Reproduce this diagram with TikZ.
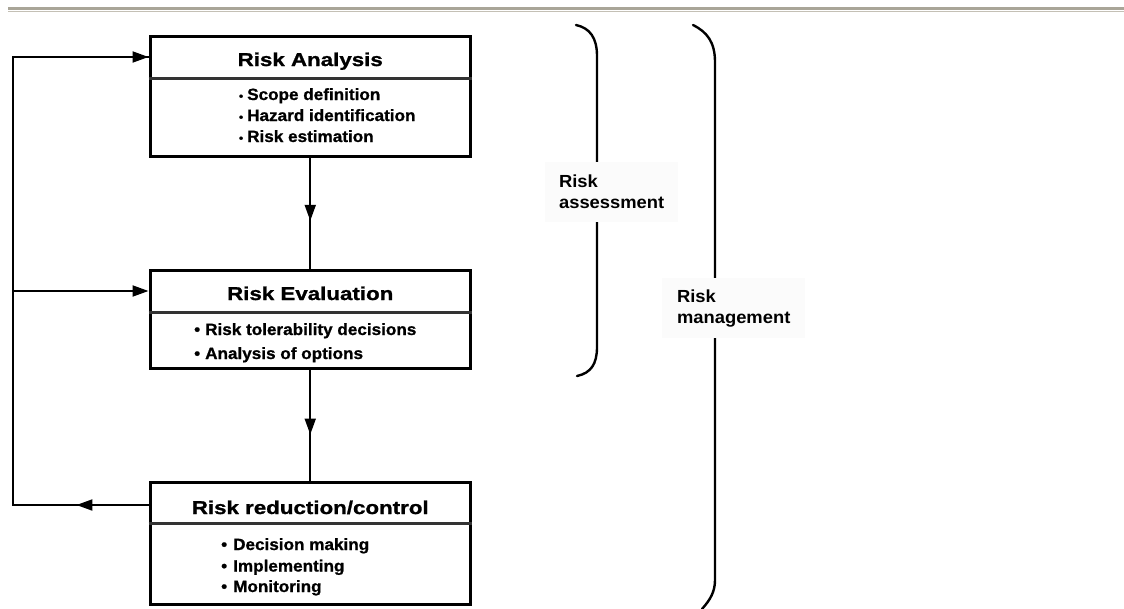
\documentclass[tikz,border=0pt]{standalone}
\usepackage{fontspec}
\setmainfont{Liberation Sans}
\newfontfamily\wfont[FakeStretch=1.2, BoldFeatures={FakeBold=1.2}]{Liberation Sans}
\newfontfamily\nfont[FakeStretch=1.05, BoldFeatures={FakeBold=1}]{Liberation Sans}
\newfontfamily\lfont[FakeStretch=1.05]{Liberation Sans}
\usetikzlibrary{arrows.meta,decorations.markings}
\definecolor{rulegray}{HTML}{A9A598}
\definecolor{rulelight}{HTML}{C4C0B5}
\definecolor{labelbg}{HTML}{FBFBFB}
\tikzset{
  box/.style={draw, line width=3pt, inner sep=0pt, minimum width=320.5pt},
  ttl/.style={font=\wfont\bfseries\fontsize{18.6}{20}\selectfont, inner sep=0pt, text height=18pt, text depth=0pt, anchor=base},
  bul/.style={font=\nfont\bfseries\fontsize{16.3}{18}\selectfont, inner sep=0pt, anchor=base west},
  conn/.style={line width=2pt, black},
  tipA/.style={-{Triangle[length=16pt,width=11pt]}},
  midarrow/.style={postaction={decorate}, decoration={markings, mark=at position #1 with {\arrow{Triangle[length=16pt,width=11pt]}}}},
  lab/.style={fill=labelbg, anchor=north west, align=left, inner sep=0pt, font=\lfont\bfseries\fontsize{17.5}{21}\selectfont},
  bracket/.style={line width=2.4pt, line cap=round},
  divider/.style={line width=2.2pt, black!80}
}
\begin{document}
\begin{tikzpicture}[x=1pt,y=-1pt]
\useasboundingbox (0,0) rectangle (1124,608);
% top rule
\fill[rulegray] (8,6.5) rectangle (1124,10);
\fill[rulelight] (8,10.8) rectangle (1124,11.8);

% boxes
\node[box, minimum height=120pt] (b1) at (310.25,96) {};
\node[box, minimum height=98.5pt] (b2) at (310.25,319.25) {};
\node[box, minimum height=121.3pt] (b3) at (310.25,543.35) {};

% titles
\node[ttl] (t1) at (310.25,66) {Risk Analysis};
\node[ttl] (t2) at (310.25,300) {Risk Evaluation};
\node[ttl] (t3) at (310.25,514) {Risk reduction/control};

% dividers
\draw[divider] (b1.west |- 0,78.5) -- (b1.east |- 0,78.5);
\draw[divider] (b2.west |- 0,312.5) -- (b2.east |- 0,312.5);
\draw[divider] (b3.west |- 0,523.5) -- (b3.east |- 0,523.5);

% bullets
\node[bul] (a1) at (247,100) {\llap{\scalebox{0.7}{\textbullet}\hspace{4pt}}Scope definition};
\node[bul] (a2) at (247,121) {\llap{\scalebox{0.7}{\textbullet}\hspace{4pt}}Hazard identification};
\node[bul] (a3) at (247,142) {\llap{\scalebox{0.7}{\textbullet}\hspace{4pt}}Risk estimation};
\node[bul] (e1) at (205,335) {\llap{\textbullet\hspace{5pt}}Risk tolerability decisions};
\node[bul] (e2) at (205,359) {\llap{\textbullet\hspace{5pt}}Analysis of options};
\node[bul] (r1) at (233,550) {\llap{\textbullet\hspace{6pt}}Decision making};
\node[bul] (r2) at (233,571.5) {\llap{\textbullet\hspace{6pt}}Implementing};
\node[bul] (r3) at (233,592) {\llap{\textbullet\hspace{6pt}}Monitoring};

% connectors
\draw[conn, midarrow=0.57] (b1.south) -- (b2.north);
\draw[conn, midarrow=0.58] (b2.south) -- (b3.north);
\coordinate (TL) at (12.5, 57);
\coordinate (BL) at (12.5, 505);
\draw[conn, midarrow=0.53] (b3.west |- t3) -- (BL);
\draw[conn, line join=miter] (b3.west |- t3) -- (BL) -- (TL) -- (b1.west |- t1);
\draw[conn, tipA] (TL) -- (b1.west |- t1);
\draw[conn, tipA] (BL |- t2) -- (b2.west |- t2);

% brackets
\draw[bracket] (576,25) .. controls (590,28) and (597,38) .. (597,56) -- (597,347) .. controls (597,364) and (591,373) .. (577,376);
\draw[bracket] (693,25) .. controls (707,32) and (715,42) .. (715,62) -- (715,580) .. controls (715,592) and (710,600) .. (702,609);

% labels
\node[lab, minimum width=133pt, minimum height=60pt] (la) at (545,162) {Risk\\assessment};
\node[lab, minimum width=143pt, minimum height=60pt] (lm) at (662,278) {Risk\\management};
\end{tikzpicture}
\end{document}
